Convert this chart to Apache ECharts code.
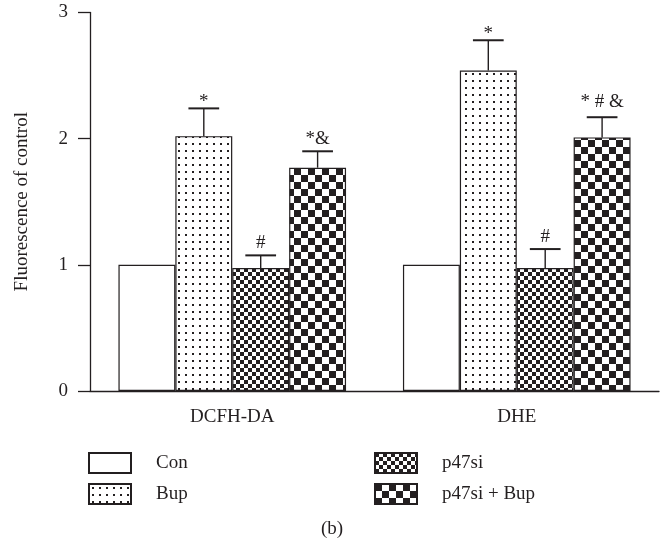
<!DOCTYPE html>
<html>
<head>
<meta charset="utf-8">
<script src="https://cdn.jsdelivr.net/npm/echarts@6/dist/echarts.min.js"></script>
<style>
  html, body { margin: 0; padding: 0; background: #fff; }
  #chart { width: 664px; height: 544px; }
</style>
</head>
<body>
<div id="chart"></div>
<script>
// data
var categories = ['DCFH-DA', 'DHE'];
var groupNames = ['Con', 'Bup', 'p47si', 'p47si + Bup'];
var conValues = [1, 1];
var bupValues = [2.02, 2.54];
var p47siValues = [0.975, 0.975];
var p47siBupValues = [1.77, 2.01];
var conErr = [0, 0];
var bupErr = [0.22, 0.24];
var p47siErr = [0.10, 0.15];
var p47siBupErr = [0.13, 0.16];
var bupMarks = ['*', '*'];
var p47siMarks = ['#', '#'];
var p47siBupMarks = ['*&', '* # &'];
var yTicks = [0, 1, 2, 3];

var INK = '#231f20';
var FONT = "'Liberation Serif', 'DejaVu Serif', serif";
var FS = 19;

// fill patterns
function makePattern(size, draw) {
    var c = document.createElement('canvas');
    c.width = size;
    c.height = size;
    var ctx = c.getContext('2d');
    ctx.fillStyle = '#fff';
    ctx.fillRect(0, 0, size, size);
    ctx.fillStyle = INK;
    draw(ctx);
    return { image: c, repeat: 'repeat' };
}
var dotFill = makePattern(7, function (ctx) {
    ctx.fillRect(3, 3, 2, 2);
});
var fineCheck = makePattern(8, function (ctx) {
    ctx.fillRect(0, 0, 4, 4);
    ctx.fillRect(4, 4, 4, 4);
});
var bigCheck = makePattern(14, function (ctx) {
    ctx.fillRect(0, 0, 7, 7);
    ctx.fillRect(7, 7, 7, 7);
});

var fills = ['#fff', dotFill, fineCheck, bigCheck];
var values = [conValues, bupValues, p47siValues, p47siBupValues];
var errs = [conErr, bupErr, p47siErr, p47siBupErr];
var marks = [['', ''], bupMarks, p47siMarks, p47siBupMarks];

var series = [];
// bars
for (var i = 0; i < 4; i++) {
    series.push({
        name: groupNames[i],
        type: 'bar',
        data: values[i],
        barGap: '0%',
        barCategoryGap: '20%',
        itemStyle: { color: fills[i], borderColor: INK, borderWidth: 1.2 },
        emphasis: { disabled: true },
        z: 2
    });
}
// error bars + significance marks
for (var j = 1; j < 4; j++) {
    (function (idx) {
        var d = categories.map(function (c, k) {
            return [k, values[idx][k], values[idx][k] + errs[idx][k], marks[idx][k]];
        });
        series.push({
            type: 'custom',
            data: d,
            z: 3,
            silent: true,
            encode: { x: 0, y: 1 },
            renderItem: function (params, api) {
                var k = api.value(0);
                var base = api.coord([k, api.value(1)]);
                var top = api.coord([k, api.value(2)]);
                var band = api.size([1, 0])[0];
                var bw = band * 0.8 / 4;
                var x = base[0] - band * 0.4 + bw * (idx + 0.5);
                var half = bw * 0.27;
                var txt = d[k][3];
                // lone asterisk sits high in the em box, pull it down a bit
                var dy = txt === '*' ? 3 : (txt.length > 3 ? -6 : -3);
                return {
                    type: 'group',
                    children: [
                        { type: 'line', shape: { x1: x, y1: base[1], x2: x, y2: top[1] },
                          style: { stroke: INK, lineWidth: 1.4 } },
                        { type: 'line', shape: { x1: x - half, y1: top[1], x2: x + half, y2: top[1] },
                          style: { stroke: INK, lineWidth: 2 } },
                        { type: 'text', x: x, y: top[1] + dy,
                          style: { text: txt, fill: INK, font: FS + 'px ' + FONT,
                                   align: 'center', verticalAlign: 'bottom' } }
                    ]
                };
            }
        });
    })(j);
}

var legendBase = {
    orient: 'vertical',
    top: 452,
    padding: 0,
    itemWidth: 42, itemHeight: 20, itemGap: 9,
    icon: 'rect',
    selectedMode: false,
    textStyle: { fontFamily: FONT, fontSize: FS, color: INK, lineHeight: 20, padding: [0, 0, 0, 20] }
};

var chart = echarts.init(document.getElementById('chart'));
chart.setOption({
    animation: false,
    backgroundColor: '#fff',
    textStyle: { fontFamily: FONT, color: INK },
    title: {
        text: '(b)',
        left: 'center',
        top: 520,
        padding: 0,
        textStyle: { fontFamily: FONT, fontSize: FS, fontWeight: 'normal', color: INK }
    },
    legend: [
        echarts.util.merge({ data: ['Con', 'Bup'], left: 88 }, legendBase),
        echarts.util.merge({ data: ['p47si', 'p47si + Bup'], left: 374 }, legendBase)
    ],
    grid: { left: 90, right: 5, top: 12.5, bottom: 153, containLabel: false },
    xAxis: {
        type: 'category',
        data: categories,
        axisLine: { lineStyle: { color: INK, width: 1.3 } },
        axisTick: { alignWithLabel: true, length: 10, lineStyle: { color: INK, width: 1.3 } },
        axisLabel: { fontFamily: FONT, fontSize: FS, color: INK, margin: 17 }
    },
    yAxis: {
        type: 'value',
        min: yTicks[0],
        max: yTicks[yTicks.length - 1],
        interval: 1,
        name: 'Fluorescence of control',
        nameLocation: 'middle',
        nameRotate: 90,
        nameGap: 58,
        nameTextStyle: { fontFamily: FONT, fontSize: FS, color: INK },
        splitLine: { show: false },
        axisLine: { show: true, lineStyle: { color: INK, width: 1.3 } },
        axisTick: { show: true, length: 12, lineStyle: { color: INK, width: 1.3 } },
        axisLabel: { fontFamily: FONT, fontSize: FS, color: INK, margin: 22 }
    },
    series: series
});
</script>
</body>
</html>
